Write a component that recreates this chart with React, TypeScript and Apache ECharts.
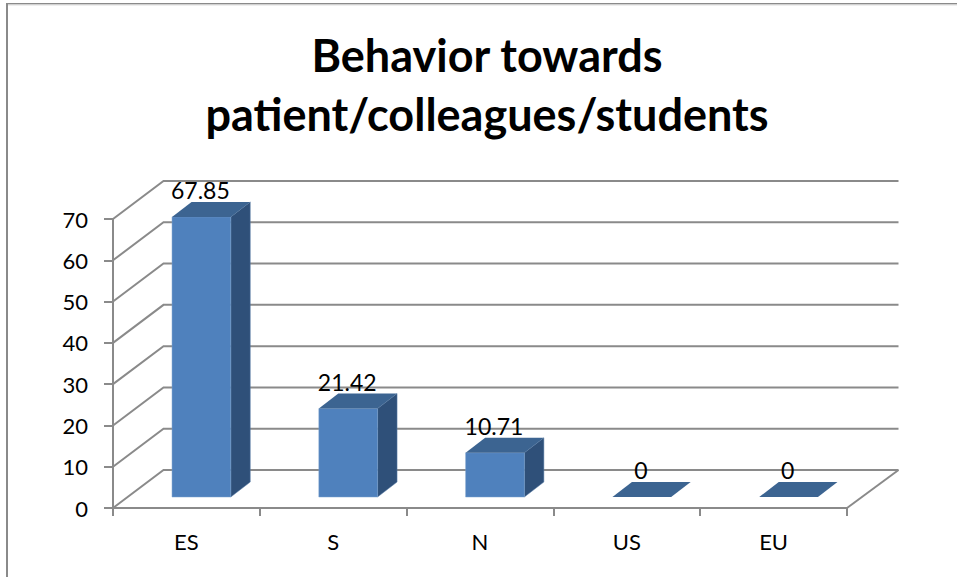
import React, { useEffect, useRef } from "react";
import * as echarts from "echarts";

const titleLines = ["Behavior towards", "patient/colleagues/students"];
const categories = ["ES", "S", "N", "US", "EU"];
const values = [67.85, 21.42, 10.71, 0, 0];
const yTicks = [0, 10, 20, 30, 40, 50, 60, 70];

const FONT = "Lato, 'Open Sans', sans-serif";
const GRAY = "#8a8a8a";
const WALL_DX = 50.5;
const WALL_DY = 38;
const BAR_SHIFT_X = 15;
const BAR_SHIFT_Y = 11;
const BAR_DX = 19.5;
const BAR_DY = 15;
const BAR_RATIO = 0.4;

function renderWall(_p: any, api: any) {
  const bandW = api.size([1, 0])[0];
  const [x0, y] = api.coord([0, api.value(1)]);
  const left = x0 - bandW / 2;
  const right = left + bandW * categories.length;
  const lineStyle = { stroke: GRAY, lineWidth: 2, fill: "none" };
  const children: any[] = [
    {
      type: "polyline",
      shape: { points: [[left, y], [left + WALL_DX, y - WALL_DY], [right + WALL_DX + 1, y - WALL_DY]] },
      style: lineStyle,
    },
  ];
  if (api.value(1) === 0) {
    children.push({
      type: "line",
      shape: { x1: right, y1: y, x2: right + WALL_DX + 1, y2: y - WALL_DY },
      style: lineStyle,
    });
  }
  return { type: "group", children };
}

function renderBar(_p: any, api: any) {
  const value = api.value(1);
  const bandW = api.size([1, 0])[0];
  const [cx, zeroY] = api.coord([api.value(0), 0]);
  const [, topY] = api.coord([api.value(0), value]);
  const w = bandW * BAR_RATIO;
  const l = cx - w / 2 + BAR_SHIFT_X;
  const r = l + w;
  const b = zeroY - BAR_SHIFT_Y;
  const t = topY - BAR_SHIFT_Y;
  const children: any[] = [];
  if (value > 0) {
    children.push(
      {
        type: "polygon",
        shape: { points: [[r, t], [r + BAR_DX, t - BAR_DY], [r + BAR_DX, b - BAR_DY], [r, b]] },
        style: { fill: "#2f5079", stroke: "#5b7ea8", lineWidth: 0.5 },
      },
      {
        type: "rect",
        shape: { x: l, y: t, width: w, height: b - t },
        style: { fill: "#4f81bd", stroke: "#7ba0cd", lineWidth: 0.5 },
      },
    );
  }
  children.push({
    type: "polygon",
    shape: { points: [[l, t], [l + BAR_DX, t - BAR_DY], [r + BAR_DX, t - BAR_DY], [r, t]] },
    style: { fill: "#3c6491" },
  });
  children.push({
    type: "text",
    style: {
      x: (l + r) / 2 - 1,
      y: t - 27,
      text: String(value),
      fill: "#000",
      font: `23px ${FONT}`,
      align: "center",
      verticalAlign: "middle",
    },
    z2: 10,
  });
  return { type: "group", children };
}

export default function App() {
  const ref = useRef<HTMLDivElement>(null);
  useEffect(() => {
    const chart = echarts.init(ref.current!, null, { renderer: "svg" });
    chart.setOption({
      animation: false,
      backgroundColor: "#fff",
      title: {
        text: titleLines.join("\n"),
        left: 482,
        top: 20,
        textAlign: "center",
        textStyle: { fontFamily: FONT, fontWeight: "bold", fontSize: 45, lineHeight: 59, color: "#000" },
      },
      grid: { left: 113, right: 110, top: 219, bottom: 69 },
      xAxis: {
        type: "category",
        data: categories,
        axisLine: { lineStyle: { color: GRAY, width: 2 } },
        axisTick: { show: true, length: 8, lineStyle: { color: GRAY, width: 2 } },
        axisLabel: { color: "#000", fontFamily: FONT, fontSize: 22, margin: 22 },
      },
      yAxis: {
        type: "value",
        min: 0,
        max: 70,
        interval: 10,
        splitLine: { show: false },
        axisLine: { show: true, lineStyle: { color: GRAY, width: 2 } },
        axisTick: { show: true, length: 9, lineStyle: { color: GRAY, width: 2 } },
        axisLabel: { color: "#000", fontFamily: FONT, fontSize: 22, margin: 25 },
      },
      series: [
        {
          type: "custom",
          renderItem: renderWall,
          data: yTicks.map((t) => [0, t]),
          encode: { x: 0, y: 1 },
          z: 1,
          silent: true,
        },
        {
          type: "custom",
          renderItem: renderBar,
          data: values.map((v, i) => [i, v]),
          encode: { x: 0, y: 1 },
          z: 3,
        },
      ],
      graphic: [
        { type: "rect", shape: { x: 6, y: 3, width: 2, height: 574 }, style: { fill: GRAY } },
        { type: "rect", shape: { x: 6, y: 3, width: 951, height: 1.5 }, style: { fill: GRAY } },
        { type: "rect", shape: { x: 8, y: 4.5, width: 949, height: 1 }, style: { fill: "#dedede" } },
      ],
    });
    return () => chart.dispose();
  }, []);
  return <div ref={ref} style={{ position: "fixed", left: 0, top: 0, width: 957, height: 577 }} />;
}
